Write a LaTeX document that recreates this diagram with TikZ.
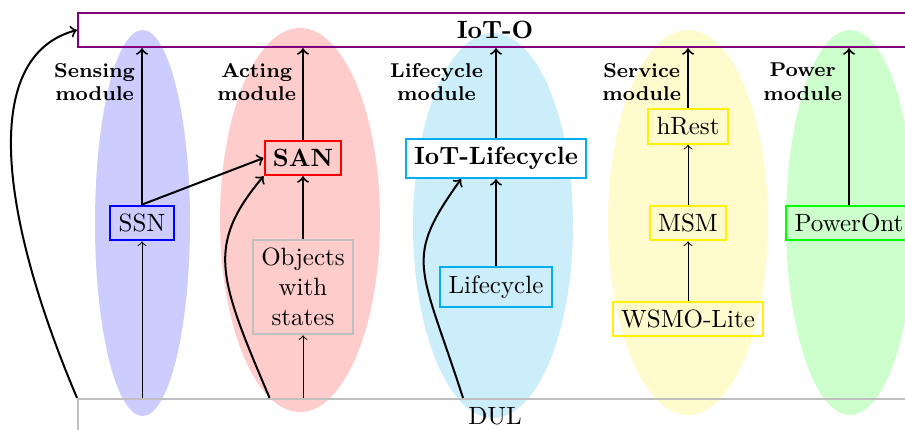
\documentclass[tikz,border=0pt]{standalone}
\usetikzlibrary{calc}
\definecolor{iotpurple}{HTML}{800080}
\definecolor{skyc}{HTML}{00AEEF}
\definecolor{skyfill}{HTML}{CCEEFB}
\definecolor{yelc}{HTML}{FFF200}
\definecolor{yelfill}{HTML}{FFFBCC}
\begin{document}
\begin{tikzpicture}[x=0.4pt,y=-0.4pt,
  box/.style={draw,thick,inner sep=3.333pt},
  lab/.style={font=\footnotesize\bfseries,align=center,anchor=east,inner sep=2.6pt},
  big/.style={thick,->},
  small/.style={->}]
\useasboundingbox (0,0) rectangle (905,429);
% module ellipses
\fill[blue!20] (142.5,223) ellipse [x radius=19pt,y radius=77.2pt];
\fill[red!20] (300,220) ellipse [x radius=32pt,y radius=76.8pt];
\fill[skyfill] (493,225.5) ellipse [x radius=32pt,y radius=77pt];
\fill[yelfill] (688,222.5) ellipse [x radius=32pt,y radius=77pt];
\fill[green!20] (850,222.5) ellipse [x radius=25.6pt,y radius=77pt];
% nodes
\node[box,draw=iotpurple,minimum width=333.6pt,font=\bfseries] (iot) at (495,30) {IoT-O};
\node[box,draw=gray!50,minimum width=333.6pt] (dul) at (495,416) {DUL};
\node[box,draw=blue] (ssn) at (142,223) {SSN};
\node[box,draw=red,font=\bfseries] (san) at (303,158) {SAN};
\node[box,draw=gray!50,align=center] (obj) at (303,287) {Objects\\with\\states};
\node[box,draw=skyc,fill=white,font=\bfseries] (iotl) at (496,158.5) {IoT-Lifecycle};
\node[box,draw=skyc] (lc) at (496,287) {Lifecycle};
\node[box,draw=yelc] (hrest) at (688,126.5) {hRest};
\node[box,draw=yelc] (msm) at (688,223) {MSM};
\node[box,draw=yelc] (wsmo) at (688,319) {WSMO-Lite};
\node[box,draw=green] (pow) at (849,223) {PowerOnt};
% labels
\node[lab] (l1) at (142,82) {Sensing\\module};
\node[lab] (l2) at (303,82) {Acting\\module};
\node[lab] (l3) at (490,82) {Lifecycle\\module};
\node[lab] (l4) at (688,82) {Service\\module};
\node[lab] (l5) at (849,82) {Power\\module};
% straight connectors
\draw[big] (ssn.north) -- (ssn.north |- iot.south);
\draw[big] (ssn.north) -- (san.west);
\draw[big] (san.north) -- (san.north |- iot.south);
\draw[big] (obj.north) -- (san.south);
\draw[small] (ssn.south |- dul.north) -- (ssn.south);
\draw[small] (obj.south |- dul.north) -- (obj.south);
\draw[big] (iotl.north) -- (iotl.north |- iot.south);
\draw[big] (lc.north) -- (iotl.south);
\draw[big] (hrest.north) -- (hrest.north |- iot.south);
\draw[small] (msm.north) -- (hrest.south);
\draw[small] (wsmo.north) -- (msm.south);
\draw[big] (pow.north) -- (pow.north |- iot.south);
% curved connectors
\coordinate (c1) at ($(san.south west |- dul.north)+(6,0)$);
\draw[big] (c1) .. controls +(-51,-120) and +(-58,69) .. (san.south west);
\coordinate (c2) at ($(iotl.south |- dul.north)+(-33,0)$);
\draw[big] (c2) .. controls +(-43,-133) and +(-58,81) .. ([xshift=-14pt]iotl.south);
\draw[big] (dul.north west) .. controls +(-78,-184) and +(-97,26) .. (iot.west);
\end{tikzpicture}
\end{document}
